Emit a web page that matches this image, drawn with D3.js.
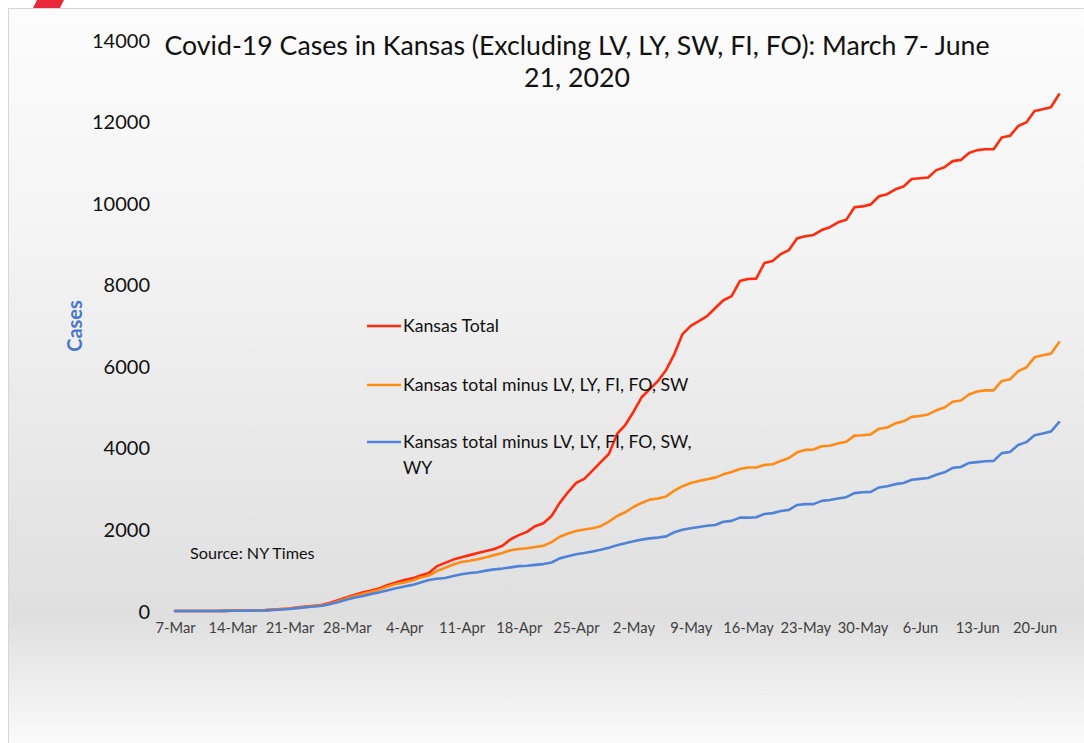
<!DOCTYPE html>
<html>
<head>
<meta charset="utf-8">
<script src="https://cdn.jsdelivr.net/npm/d3@7"></script>
<style>
  html, body { margin: 0; padding: 0; background: #ffffff; }
  svg { display: block; }
</style>
</head>
<body>
<svg id="chart" width="1084" height="743"></svg>
<script>
// ---------- DATA ----------
const startDate = "2020-03-07";
const endDate = "2020-06-23";

const kansasTotal = [
  1, 1, 1, 1, 1, 1, 4, 8, 8, 11, 17, 21, 34, 50, 60, 90, 110, 130, 150, 200,
  270, 340, 400, 460, 500, 560, 640, 700, 760, 800, 870, 930, 1100, 1180, 1260, 1320, 1370, 1420, 1470, 1520,
  1600, 1760, 1860, 1940, 2080, 2150, 2330, 2650, 2910, 3140, 3240, 3440, 3650, 3850, 4340, 4560, 4880, 5240, 5440, 5640,
  5910, 6300, 6790, 6990, 7110, 7230, 7430, 7620, 7720, 8090, 8140, 8150, 8530, 8580, 8750, 8850, 9140, 9190, 9220, 9340,
  9410, 9530, 9590, 9900, 9920, 9970, 10170, 10220, 10340, 10410, 10590, 10610, 10630, 10810, 10880, 11030, 11060, 11230, 11300, 11320,
  11320, 11610, 11650, 11890, 11980, 12260, 12300, 12350, 12670
];

const minusFive = [
  1, 1, 1, 1, 1, 1, 4, 8, 8, 11, 16, 20, 30, 45, 55, 80, 100, 120, 140, 180,
  240, 310, 370, 420, 470, 530, 600, 660, 700, 750, 820, 870, 980, 1060, 1140, 1200, 1230, 1270, 1320, 1370,
  1420, 1490, 1520, 1540, 1570, 1600, 1690, 1820, 1900, 1960, 2000, 2030, 2080, 2190, 2330, 2420, 2550, 2650, 2730, 2760,
  2810, 2950, 3060, 3140, 3190, 3230, 3270, 3350, 3410, 3480, 3520, 3520, 3580, 3600, 3680, 3750, 3890, 3950, 3960, 4040,
  4050, 4110, 4150, 4300, 4310, 4330, 4470, 4500, 4600, 4650, 4760, 4780, 4820, 4920, 4990, 5130, 5160, 5310, 5380, 5410,
  5410, 5640, 5680, 5880, 5970, 6220, 6270, 6310, 6590
];

const minusSix = [
  1, 1, 1, 1, 1, 1, 3, 6, 6, 9, 13, 16, 24, 35, 50, 70, 90, 110, 130, 170,
  220, 280, 330, 370, 420, 460, 510, 560, 600, 640, 700, 760, 790, 810, 860, 900, 930, 950, 990, 1020,
  1040, 1070, 1100, 1110, 1130, 1150, 1190, 1290, 1340, 1390, 1420, 1460, 1500, 1550, 1610, 1660, 1710, 1750, 1780, 1800,
  1830, 1930, 1990, 2030, 2060, 2090, 2110, 2190, 2210, 2290, 2290, 2300, 2380, 2400, 2450, 2480, 2600, 2620, 2620, 2700,
  2720, 2760, 2790, 2890, 2910, 2920, 3030, 3060, 3110, 3140, 3220, 3240, 3260, 3340, 3400, 3510, 3530, 3630, 3650, 3670,
  3680, 3870, 3900, 4070, 4140, 4310, 4350, 4400, 4630
];

const seriesNames = [
  "Kansas Total",
  "Kansas total minus LV, LY, FI, FO, SW",
  "Kansas total minus LV, LY, FI, FO, SW,"
];
const seriesColors = ["#ff2b0c", "#ff8a16", "#4f83d8"];

const xTickLabels = ["7-Mar","14-Mar","21-Mar","28-Mar","4-Apr","11-Apr","18-Apr","25-Apr",
                     "2-May","9-May","16-May","23-May","30-May","6-Jun","13-Jun","20-Jun"];
const yTicks = [0, 2000, 4000, 6000, 8000, 10000, 12000, 14000];

const titleLines = ["Covid-19 Cases in Kansas (Excluding LV, LY, SW, FI, FO):  March 7- June", "21, 2020"];
const yAxisTitle = "Cases";
const sourceNote = "Source: NY Times";

// ---------- BUILD ----------
const parse = d3.timeParse("%Y-%m-%d");
const dates = d3.timeDay.range(parse(startDate), d3.timeDay.offset(parse(endDate), 1));
const allSeries = [kansasTotal, minusFive, minusSix];

const svg = d3.select("#chart");
const W = 1084, H = 743;
const FONT = "Lato, 'Open Sans', sans-serif";

// background
const defs = svg.append("defs");
const grad = defs.append("linearGradient").attr("id", "bg").attr("x1", 0).attr("y1", 0).attr("x2", 0).attr("y2", 1);
grad.append("stop").attr("offset", "0%").attr("stop-color", "#fcfcfc");
grad.append("stop").attr("offset", "30%").attr("stop-color", "#f4f4f4");
grad.append("stop").attr("offset", "82%").attr("stop-color", "#dfdfdf");
grad.append("stop").attr("offset", "100%").attr("stop-color", "#fcfcfc");

svg.append("rect").attr("width", W).attr("height", H).attr("fill", "#ffffff");
svg.append("rect").attr("x", 8.5).attr("y", 8.5).attr("width", W).attr("height", H)
  .attr("fill", "url(#bg)").attr("stroke", "#d6d6d6").attr("stroke-width", 1);
svg.append("path").attr("d", "M37,0 L64,0 L60,8 L33,8 Z").attr("fill", "#e8283a");

// scales
const x = d3.scaleTime()
  .domain([dates[0], dates[dates.length - 1]])
  .range([175, 175 + 8.186 * (dates.length - 1)]);
const y = d3.scaleLinear().domain([0, 14000]).range([611, 40]);

// x tick labels (weekly)
const tickDates = xTickLabels.map((_, i) => d3.timeDay.offset(dates[0], i * 7));
const xAxis = d3.axisBottom(x).tickValues(tickDates).tickSize(0).tickPadding(0)
  .tickFormat((d, i) => xTickLabels[i]);
const gx = svg.append("g").attr("transform", "translate(0,623)").call(xAxis);
gx.select(".domain").remove();
gx.selectAll("text").attr("font-family", FONT).attr("font-size", 14.7).attr("fill", "#404040").attr("dy", "0.71em");

// y tick labels
const yAxis = d3.axisLeft(y).tickValues(yTicks).tickSize(0).tickPadding(0).tickFormat(d3.format("d"));
const gy = svg.append("g").attr("transform", "translate(150,0)").call(yAxis);
gy.select(".domain").remove();
gy.selectAll("text").attr("font-family", FONT).attr("font-size", 20).attr("fill", "#111").attr("dy", "0.35em");

// lines
const line = d3.line().x((d, i) => x(dates[i])).y(d => y(d));
allSeries.forEach((s, k) => {
  svg.append("path").datum(s).attr("d", line)
    .attr("fill", "none").attr("stroke", seriesColors[k])
    .attr("stroke-width", 2.6).attr("stroke-linejoin", "round").attr("stroke-linecap", "round");
});

// title
svg.append("text").attr("x", 577).attr("y", 55).attr("text-anchor", "middle")
  .attr("font-family", FONT).attr("font-size", 26.7).attr("fill", "#111").text(titleLines[0]);
svg.append("text").attr("x", 577).attr("y", 87).attr("text-anchor", "middle")
  .attr("font-family", FONT).attr("font-size", 26.7).attr("fill", "#111").text(titleLines[1]);

// y axis title
svg.append("text").attr("transform", "translate(82,326) rotate(-90)").attr("text-anchor", "middle")
  .attr("font-family", FONT).attr("font-size", 20).attr("font-weight", "bold").attr("fill", "#4a78c8").text(yAxisTitle);

// legend
const legY = [326, 385, 442];
const leg = svg.append("g");
seriesNames.forEach((name, k) => {
  leg.append("line").attr("x1", 367).attr("x2", 401).attr("y1", legY[k]).attr("y2", legY[k])
    .attr("stroke", seriesColors[k]).attr("stroke-width", 2.6);
  leg.append("text").attr("x", 403).attr("y", legY[k]).attr("dy", "0.35em")
    .attr("font-family", FONT).attr("font-size", 17.7).attr("fill", "#111").text(name);
});
leg.append("text").attr("x", 403).attr("y", 468).attr("dy", "0.35em")
  .attr("font-family", FONT).attr("font-size", 17.7).attr("fill", "#111").text("WY");

// source
svg.append("text").attr("x", 190).attr("y", 553).attr("dy", "0.35em")
  .attr("font-family", FONT).attr("font-size", 16.2).attr("fill", "#111").text(sourceNote);
</script>
</body>
</html>
